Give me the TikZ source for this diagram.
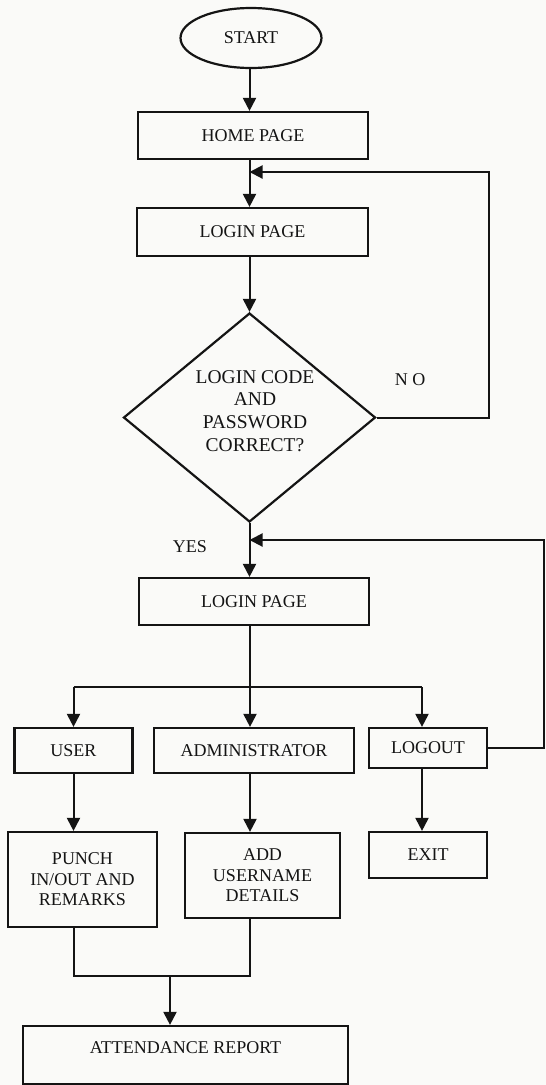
\documentclass[tikz,border=0pt]{standalone}
\usepackage{fontspec}
\setmainfont{Liberation Serif}
\usetikzlibrary{shapes.geometric,arrows.meta}
\definecolor{paper}{RGB}{250,250,248}
\definecolor{ink}{RGB}{20,20,20}
\begin{document}
\begin{tikzpicture}[x=1pt,y=-1pt,
  every node/.style={font=\fontsize{18}{20.5}\selectfont,text=ink},
  box/.style={draw=ink,rectangle,line width=2.2pt,inner sep=0pt,align=center},
  flow/.style={draw=ink,line width=2pt,-{Triangle[length=13pt,width=13pt]}},
  plain/.style={draw=ink,line width=2pt}]

% page
\fill[paper] (0,0) rectangle (546,1085);
\useasboundingbox (0,0) rectangle (546,1085);

% main spine of the flow
\coordinate (spine) at (249.5,0);

% nodes
\node[draw=ink,ellipse,line width=2.2pt,minimum width=141pt,minimum height=60pt,inner sep=0pt] (start) at (251,38) {START};
\node[box,minimum width=230pt,minimum height=47pt] (home) at (253,135.5) {HOME PAGE};
\node[box,minimum width=231pt,minimum height=48pt] (login1) at (252.5,232) {LOGIN PAGE};
\node[draw=ink,diamond,line width=2.2pt,minimum width=252pt,minimum height=209pt,inner sep=0pt] (check) at (249.5,417.5) {};
\node[align=center,font=\fontsize{19.5}{22.7}\selectfont] (checktxt) at (255,411) {LOGIN CODE\\AND\\PASSWORD\\CORRECT?};
\node (no) at (410,380) {N O};
\node (yes) at (190,547) {YES};
\node[box,minimum width=230pt,minimum height=47pt] (login2) at (254,601.5) {LOGIN PAGE};

\node[box,minimum width=118pt,minimum height=45pt] (user) at (73.5,750.5) {USER};
\node[box,minimum width=200pt,minimum height=45pt] (admin) at (254,750.5) {ADMINISTRATOR};
\node[box,minimum width=118pt,minimum height=40pt] (logout) at (428,748) {LOGOUT};

\node[box,minimum width=149pt,minimum height=95pt] (punch) at (82.5,879.5) {PUNCH\\IN/OUT AND\\REMARKS};
\node[box,minimum width=155pt,minimum height=85pt] (add) at (262.5,875.5) {ADD\\USERNAME\\DETAILS};
\node[box,minimum width=118pt,minimum height=46pt] (exit) at (428,855) {EXIT};

\node[box,minimum width=325pt,minimum height=58pt] (att) at (185.5,1055) {};
\node (atttxt) at (185.5,1048) {ATTENDANCE REPORT};

% top part
\draw[flow] (spine |- start.south) -- (spine |- home.north);
\draw[flow] (spine |- home.south) -- (spine |- login1.north);
\draw[flow] (spine |- login1.south) -- (check.north);

% wrong credentials: back to the login page
\coordinate (back1) at (249.5,172);
\draw[flow] (check.east) -- ++(112,0) |- (back1);

% correct credentials
\draw[flow] (check.south) -- (spine |- login2.north);

% logout: back to the second login page
\coordinate (back2) at (249.5,540);
\draw[flow] (logout.east) -- ++(56,0) |- (back2);

% branching to the three choices
\coordinate (split) at (250,687);
\coordinate (lgx) at ([xshift=-6pt]logout.north);
\draw[plain] (spine |- login2.south) -- (spine |- split);
\draw[plain] (user.north |- split) -- (lgx |- split);
\draw[flow] (user.north |- split) -- (user.north);
\draw[flow] (split) -- (split |- admin.north);
\draw[flow] (lgx |- split) -- (lgx);

% second row
\draw[flow] (user.south) -- (user.south |- punch.north);
\draw[flow] (split |- admin.south) -- (split |- add.north);
\draw[flow] (lgx |- logout.south) -- (lgx |- exit.north);

% merge into the report
\coordinate (join) at (170,976);
\draw[plain] (user.south |- punch.south) |- (join) -| (split |- add.south);
\draw[flow] (join) -- (join |- att.north);

\end{tikzpicture}
\end{document}
